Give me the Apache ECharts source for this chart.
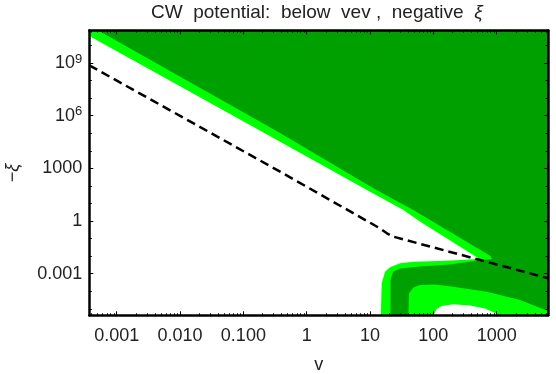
<!DOCTYPE html>
<html>
<head>
<meta charset="utf-8">
<script src="https://cdn.jsdelivr.net/npm/echarts@6/dist/echarts.min.js"></script>
<style>
  html, body { margin: 0; padding: 0; background: #fff; }
  #chart { width: 556px; height: 374px; }
</style>
</head>
<body>
<div id="chart"></div>
<script>
  // axis ranges (v, -xi)
  var vRange = [3.69e-4, 6460];
  var xiRange = [4.27e-6, 7.1e10];

  var vTicks = [0.001, 0.01, 0.1, 1, 10, 100, 1000];
  var vTickLabels = ['0.001', '0.010', '0.100', '1', '10', '100', '1000'];
  var xiTicks = [0.001, 1, 1000, 1e6, 1e9];
  var xiTickLabels = ['0.001', '1', '1000', '10^6', '10^9'];

  // light green region (everything above the white wedge + lower lobe outline)
  var lightV  = [3.69e-4, 6460, 6460, 14.8, 15.3, 17.3, 20.7, 29.8, 48, 162, 430, 515, 184, 62, 33.6, 8.9, 0.38, 3.69e-4];
  var lightXi = [7.1e10, 7.1e10, 4.27e-6, 4.27e-6, 3.0e-4, 1.3e-3, 2.3e-3, 3.9e-3, 4.8e-3, 5.5e-3, 6.6e-3, 7.5e-3, 0.078, 0.91, 4.2, 58, 3.3e4, 3.5e10];

  // dark green region
  var darkV  = [5.1e-4, 6460, 6460, 21.1, 21.1, 23.1, 29.8, 62, 184, 457, 851, 787, 48.3, 12.6, 0.38];
  var darkXi = [7.1e10, 7.1e10, 4.27e-6, 4.27e-6, 4.4e-4, 1.26e-3, 2.0e-3, 2.6e-3, 3.3e-3, 5.2e-3, 6.9e-3, 0.0106, 4.2, 58, 1.02e5];

  // inner light green band of the lower lobe
  var bandV  = [40.3, 41.3, 48.3, 61.7, 106, 207, 698, 2340, 6170, 6460, 6460];
  var bandXi = [4.27e-6, 7.6e-5, 1.66e-4, 2.3e-4, 2.4e-4, 1.8e-4, 9.3e-5, 3.2e-5, 7.9e-6, 5.5e-6, 4.27e-6];

  // white pocket at the bottom
  var pocketV  = [100, 114, 137, 205, 380, 656, 944, 1050];
  var pocketXi = [4.27e-6, 9.8e-6, 1.45e-5, 1.8e-5, 1.55e-5, 1.05e-5, 5.8e-6, 4.27e-6];

  // dashed curve
  var dashV  = [3.69e-4, 0.38, 14.4, 18.5, 23.1, 6460];
  var dashXi = [7.4e8, 650, 0.38, 0.2, 0.13, 5.5e-4];

  var L = Math.log10;
  var font = "'Liberation Sans', Arial, sans-serif";

  function toLog(vs, xis) {
    return vs.map(function (v, i) { return [L(v), L(xis[i])]; });
  }

  function areaSeries(vs, xis, color) {
    var pts = toLog(vs, xis);
    return {
      type: 'custom',
      silent: true,
      clip: true,
      data: pts,
      renderItem: function (params, api) {
        if (params.dataIndex !== 0) return null;
        return {
          type: 'polygon',
          shape: { points: pts.map(function (p) { return api.coord(p); }) },
          style: { fill: color }
        };
      }
    };
  }

  var vMinor = [];
  for (var e = Math.floor(L(vRange[0])); e <= Math.ceil(L(vRange[1])); e++) {
    for (var m = 2; m <= 9; m++) {
      var val = m * Math.pow(10, e);
      if (val > vRange[0] && val < vRange[1]) vMinor.push(L(val));
    }
  }
  var xiMinor = [];
  for (var k = Math.ceil(L(xiRange[0])); k <= Math.floor(L(xiRange[1])); k++) {
    if (k % 3 !== 0) xiMinor.push(k);
  }

  function xAxisDef(pos, values, len, labels) {
    return {
      type: 'value', position: pos, z: 5,
      min: L(vRange[0]), max: L(vRange[1]),
      splitLine: { show: false },
      axisLine: { show: len === 4, onZero: false, lineStyle: { color: '#000', width: 2.5 } },
      axisTick: { inside: true, length: len, customValues: values, lineStyle: { color: '#000', width: 1 } },
      axisLabel: labels ? {
        customValues: vTicks.map(L), margin: 12, fontSize: 18, fontFamily: font, color: '#222',
        formatter: function (val) {
          for (var i = 0; i < vTicks.length; i++) if (Math.abs(L(vTicks[i]) - val) < 1e-6) return vTickLabels[i];
          return '';
        }
      } : { show: false },
      name: labels ? 'v' : '', nameLocation: 'middle', nameGap: 41,
      nameTextStyle: { fontSize: 18, fontFamily: font, color: '#222' }
    };
  }

  function yAxisDef(pos, values, len, labels) {
    return {
      type: 'value', position: pos, z: 5,
      min: L(xiRange[0]), max: L(xiRange[1]),
      splitLine: { show: false },
      axisLine: { show: len === 4, onZero: false, lineStyle: { color: '#000', width: 2.5 } },
      axisTick: { inside: true, length: len, customValues: values, lineStyle: { color: '#000', width: 1 } },
      axisLabel: labels ? {
        customValues: xiTicks.map(L), margin: 7, fontSize: 18, fontFamily: font, color: '#222',
        formatter: function (val) {
          for (var i = 0; i < xiTicks.length; i++) {
            if (Math.abs(L(xiTicks[i]) - val) < 1e-6) {
              var s = xiTickLabels[i].split('^');
              return s.length > 1 ? s[0] + '{sup|' + s[1] + '}' : s[0];
            }
          }
          return '';
        },
        rich: { sup: { fontSize: 13, fontFamily: font, color: '#222', verticalAlign: 'top', padding: [0, 0, 8, 0] } }
      } : { show: false },
      name: labels ? '{n|\u2212}{i|\u03be}' : '', nameLocation: 'middle', nameGap: 67, nameRotate: 90,
      nameTextStyle: {
        fontSize: 18, fontFamily: font, color: '#222',
        rich: { n: { fontSize: 18, fontFamily: font, color: '#222' }, i: { fontSize: 18, fontFamily: font, fontStyle: 'italic', color: '#222' } }
      }
    };
  }

  var xMajor = vTicks.map(L);
  var yMajor = xiTicks.map(L);

  var option = {
    animation: false,
    backgroundColor: '#fff',
    title: {
      text: '{n|CW  potential:  below  vev ,  negative  }{i|\u03be}',
      left: 146, top: -2,
      textStyle: {
        fontSize: 19, fontWeight: 'normal', fontFamily: font, color: '#222',
        rich: {
          n: { fontSize: 19, fontFamily: font, color: '#222' },
          i: { fontSize: 19, fontFamily: font, fontStyle: 'italic', color: '#222' }
        }
      }
    },
    grid: { left: 89.3, right: 8, top: 30.5, bottom: 58.7, outerBoundsMode: 'none', containLabel: false },
    xAxis: [
      xAxisDef('bottom', xMajor, 4, true),
      xAxisDef('bottom', vMinor, 2, false),
      xAxisDef('top', xMajor, 4, false),
      xAxisDef('top', vMinor, 2, false)
    ],
    yAxis: [
      yAxisDef('left', yMajor, 4, true),
      yAxisDef('left', xiMinor, 2.5, false),
      yAxisDef('right', yMajor, 4, false),
      yAxisDef('right', xiMinor, 2.5, false)
    ],
    series: [
      areaSeries(lightV, lightXi, '#00ff00'),
      areaSeries(darkV, darkXi, '#00a000'),
      areaSeries(bandV, bandXi, '#00ff00'),
      areaSeries(pocketV, pocketXi, '#ffffff'),
      {
        type: 'line',
        data: toLog(dashV, dashXi),
        symbol: 'none',
        clip: true,
        silent: true,
        lineStyle: { color: '#000', width: 2.5, type: [9, 5] },
        z: 4
      }
    ]
  };

  var chart = echarts.init(document.getElementById('chart'), null, { renderer: 'canvas' });
  chart.setOption(option);
</script>
</body>
</html>
